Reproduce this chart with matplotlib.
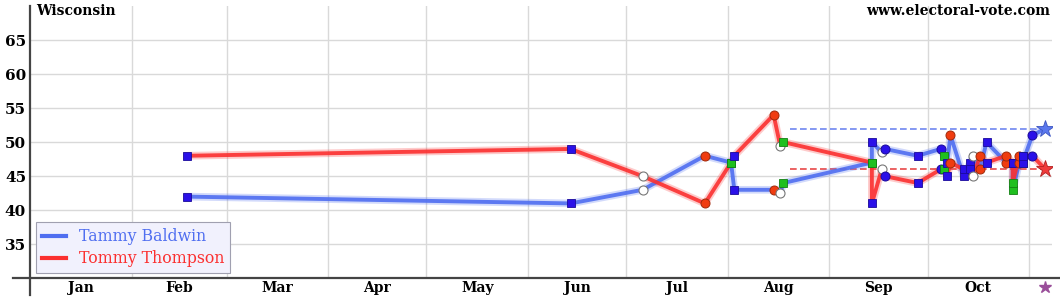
import matplotlib
matplotlib.use("Agg")
import matplotlib.pyplot as plt
import matplotlib.dates as mdates
from matplotlib.lines import Line2D
import numpy as np

# poll data (Wisconsin senate 2012)
poll_dates = ["2012-02-18", "2012-06-14", "2012-07-06", "2012-07-25", "2012-08-02",
              "2012-08-03", "2012-08-15", "2012-08-17", "2012-08-18", "2012-09-14",
              "2012-09-14", "2012-09-17", "2012-09-18", "2012-09-28", "2012-10-05",
              "2012-10-06", "2012-10-07", "2012-10-08", "2012-10-12", "2012-10-14",
              "2012-10-15", "2012-10-17", "2012-10-19", "2012-10-25", "2012-10-27",
              "2012-10-27", "2012-10-29", "2012-10-30", "2012-10-30", "2012-11-02"]
baldwin = [42, 41, 43, 48, 47, 43, 43, 42.5, 44, 47, 50, 48.5, 49, 48, 49,
           48, 47, 51, 45, 47, 48, 46, 50, 47, 47, 43, 47, 47, 47, 51]
thompson = [48, 49, 45, 41, 47, 48, 54, 49.5, 50, 47, 41, 46, 45, 44, 46,
            46, 45, 47, 46, 46, 45, 48, 47, 48, 47, 44, 48, 48, 48, 48]
pollster = ["bsq", "bsq", "oc", "rc", "gsq", "bsq", "rc", "oc", "gsq", "gsq",
            "bsq", "oc", "bc", "bsq", "bc", "gsq", "bsq", "rc", "bsq", "bsq",
            "oc", "rc", "bsq", "rc", "bsq", "gsq", "rc", "gsq", "bsq", "bc"]

election_day = "2012-11-06"
final_baldwin = 52
final_thompson = 46
dash_start = "2012-08-20"

month_labels = ["Jan", "Feb", "Mar", "Apr", "May", "Jun", "Jul", "Aug", "Sep", "Oct"]
y_ticks = [35, 40, 45, 50, 55, 60, 65]

BLUE = "#4f6ef0"
RED = "#fb3030"

marker_styles = {
    "bsq": dict(marker="s", ms=5.5, mfc="#2a10e8", mec="#1a0a9a", mew=0.6),
    "gsq": dict(marker="s", ms=5.5, mfc="#1fbf1f", mec="#138013", mew=0.6),
    "rc": dict(marker="o", ms=6.5, mfc="#f03c10", mec="#a02a0a", mew=0.7),
    "bc": dict(marker="o", ms=6.5, mfc="#2a10e8", mec="#1a0a9a", mew=0.7),
    "oc": dict(marker="o", ms=6.5, mfc="white", mec="#777777", mew=0.8),
}


def to_num(s):
    return mdates.date2num(np.datetime64(s))


def draw_candidate(ax, xs, ys, color):
    # soft glow under the main line
    ax.plot(xs, ys, color=color, lw=5.5, alpha=0.25, solid_joinstyle="round", zorder=3)
    ax.plot(xs, ys, color=color, lw=2.8, alpha=0.9, solid_joinstyle="round", zorder=4)


def main():
    plt.rcParams["font.family"] = ["DejaVu Serif"]
    fig = plt.figure(figsize=(10.6, 3.0), dpi=100)
    x0, x1 = 30.2 / 1060, 1052 / 1060
    y0, y1 = 21.7 / 300, 294 / 300
    ax = fig.add_axes([x0, y0, x1 - x0, y1 - y0])

    xs = [to_num(d) for d in poll_dates]
    x_end = to_num(election_day)

    bx = xs + [x_end]
    draw_candidate(ax, bx, baldwin + [final_baldwin], BLUE)
    draw_candidate(ax, bx, thompson + [final_thompson], RED)

    for x, b, t, p in zip(xs, baldwin, thompson, pollster):
        st = marker_styles[p]
        ax.plot([x], [b], ls="none", zorder=5, **st)
        ax.plot([x], [t], ls="none", zorder=5, **st)

    xd = [to_num(dash_start), x_end]
    ax.plot(xd, [final_baldwin] * 2, color="#6f86f0", lw=1.2, ls=(0, (4, 2)), zorder=2)
    ax.plot(xd, [final_thompson] * 2, color="#e84848", lw=1.2, ls=(0, (4, 2)), zorder=2)

    ax.plot([x_end], [final_baldwin], marker="*", ms=13, color="#5b78ee", mec="#3d55c0", mew=0.6, zorder=6)
    ax.plot([x_end], [final_thompson], marker="*", ms=13, color="#f03a3a", mec="#b02020", mew=0.6, zorder=6)

    ax.set_xlim(to_num("2012-01-01"), to_num("2012-11-08"))
    ax.set_ylim(30, 70)

    month_starts = [to_num("2012-%02d-01" % m) for m in range(1, 12)]
    for m in month_starts[1:]:
        ax.axvline(m, color="#d9d9d9", lw=1, zorder=1)
    for y in y_ticks:
        ax.axhline(y, color="#d9d9d9", lw=1, zorder=1)

    mids = [(month_starts[i] + month_starts[i + 1]) / 2 for i in range(10)]
    ax.set_xticks(mids)
    ax.set_xticklabels(month_labels, fontsize=10, fontweight="bold")
    ax.set_yticks(y_ticks)
    ax.set_yticklabels([str(v) for v in y_ticks], fontsize=11, fontweight="bold")
    ax.tick_params(length=0, pad=2)
    ax.tick_params(axis="y", pad=3)

    for s in ["top", "right", "left", "bottom"]:
        ax.spines[s].set_visible(False)

    # axis lines that stick out past the corner
    fig.add_artist(Line2D([x0, x0], [5 / 300, 1 - 6 / 300], color="#444444", lw=1.6))
    fig.add_artist(Line2D([13 / 1060, 1.0], [y0, y0], color="#444444", lw=1.6))

    ax.plot([x_end], [28.7], marker="*", ms=9, color="#9a4f9a", clip_on=False, zorder=6)

    handles = [Line2D([], [], color=BLUE, lw=3), Line2D([], [], color=RED, lw=3)]
    leg = ax.legend(handles, ["Tammy Baldwin", "Tommy Thompson"], loc="lower left",
                    bbox_to_anchor=(6 / 1022, 5 / 272), borderaxespad=0, fontsize=11.3,
                    frameon=True, fancybox=False,
                    facecolor="#f1f1fd", edgecolor="#a0a0b0", framealpha=1,
                    labelcolor=[BLUE, RED], handlelength=1.5, borderpad=0.4,
                    labelspacing=0.3, handletextpad=0.8)
    leg.get_frame().set_linewidth(0.8)
    leg.set_zorder(10)

    fig.text(36 / 1060, 1 - 11 / 300, "Wisconsin", fontsize=10, fontweight="bold", va="center", ha="left")
    fig.text(1050 / 1060, 1 - 11 / 300, "www.electoral-vote.com", fontsize=10, fontweight="bold",
             va="center", ha="right")

    fig.savefig("out.png", dpi=100)


if __name__ == "__main__":
    main()
